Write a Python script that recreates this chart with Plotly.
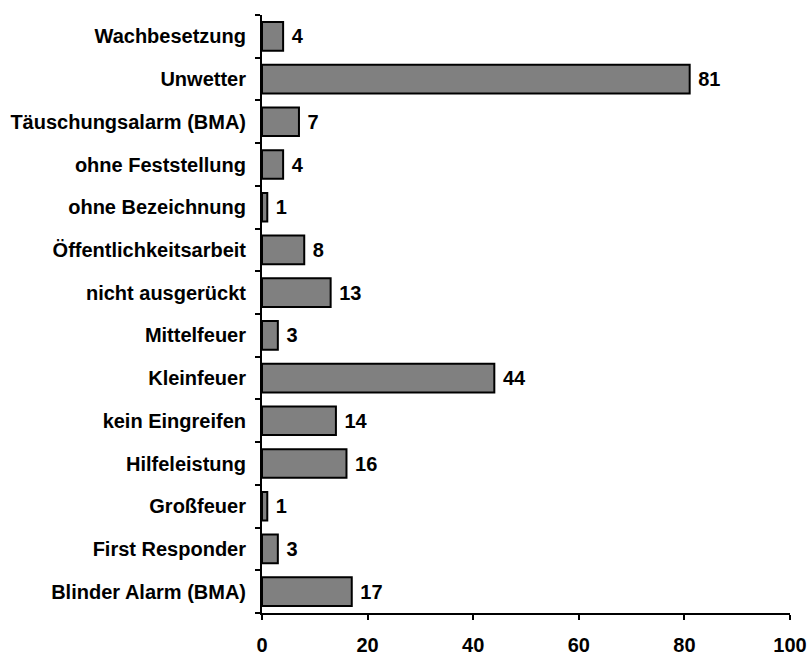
import plotly.graph_objects as go

categories = ["Blinder Alarm (BMA)", "First Responder", "Großfeuer", "Hilfeleistung",
              "kein Eingreifen", "Kleinfeuer", "Mittelfeuer", "nicht ausgerückt",
              "Öffentlichkeitsarbeit", "ohne Bezeichnung", "ohne Feststellung",
              "Täuschungsalarm (BMA)", "Unwetter", "Wachbesetzung"]
values = [17, 3, 1, 16, 14, 44, 3, 13, 8, 1, 4, 7, 81, 4]
x_ticks = [0, 20, 40, 60, 80, 100]

font = dict(family="Liberation Sans, Arial, sans-serif", size=20, color="black", weight="bold")

fig = go.Figure(go.Bar(
    x=values, y=categories, orientation="h",
    marker=dict(color="#808080", line=dict(color="black", width=2)),
    text=[" " + str(v) for v in values], textposition="outside",
    textfont=font, cliponaxis=False, width=0.67,
))

fig.update_layout(
    width=809, height=655,
    margin=dict(l=262, r=19, t=15, b=42, autoexpand=False),
    paper_bgcolor="white", plot_bgcolor="white",
    showlegend=False, font=font,
    xaxis=dict(range=[0, 100], tickvals=x_ticks, showgrid=False, zeroline=False,
               showline=True, linecolor="black", linewidth=2,
               ticks="outside", ticklen=5, tickwidth=2, tickcolor="black",
               tickfont=font, fixedrange=True, automargin=False,
               ticklabelstandoff=8),
    yaxis=dict(categoryorder="array", categoryarray=categories, showgrid=False,
               zeroline=False, showline=True, linecolor="black", linewidth=2,
               ticks="outside", ticklen=5, tickwidth=2, tickcolor="black",
               tickson="boundaries", tickfont=font, ticklabelstandoff=10,
               automargin=False,
               range=[-0.5, len(categories) - 0.5]),
)

fig.write_html("out.html")
